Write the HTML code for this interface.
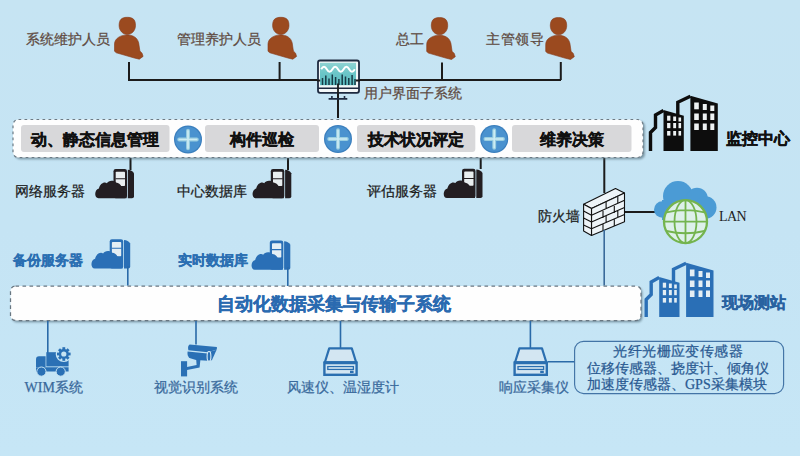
<!DOCTYPE html>
<html><head><meta charset="utf-8">
<style>
html,body{margin:0;padding:0;}
body{width:800px;height:456px;overflow:hidden;font-family:"Liberation Sans",sans-serif;}
#c{position:relative;width:800px;height:456px;overflow:hidden;background:linear-gradient(180deg,#c6e4f3 0%,#c5e4f4 50%,#c6e6f6 100%);}
svg{position:absolute;left:0;top:0;}
.t{position:absolute;white-space:nowrap;line-height:1;font-size:14px;-webkit-text-stroke:0.25px currentColor;}
.p{color:#604b42;}
.k{color:#1c1c1c;}
.b{font-weight:bold;font-size:16px;color:#111;-webkit-text-stroke:0.4px currentColor;}
.bl{font-weight:bold;color:#2b6fb2;-webkit-text-stroke:0.35px currentColor;}
.lb{color:#3a6a9c;}
.sf{font-family:"Liberation Serif",serif;}
</style></head>
<body><div id="c">
<svg width="800" height="456" viewBox="0 0 800 456">
<!-- top tree lines -->
<g stroke="#1b1b1b" stroke-width="2" fill="none">
<path d="M128 80H561M129 62V80M279.6 62V80M442 62.5V80M560.8 62V80"/>
<path d="M338 84V118"/>
<path d="M130.5 158V170M288 158V170M480.7 158V169M604.3 158V193"/>
<path d="M624 212H655"/>
</g>
<!-- persons -->
<defs>
<g id="person">
<path d="M-8.2 -0.5 C-8.2 -6.5,-5.5 -8.7,0 -8.7 C5.5 -8.7,8.2 -6.5,8.2 -0.5 C8.2 4.6,4.4 8.5,0 8.5 C-4.4 8.5,-8.2 4.6,-8.2 -0.5Z" fill="#9b4a1f" stroke="#86391a" stroke-width="0.6"/>
<path d="M-12.8 18 C-12.8 12.5,-6.5 8.9,-0.5 8.9 C5.5 8.9,10.2 11.5,11.4 17 L12.6 25 L14.8 27.2 L15.8 30.4 L12 33.2 L7 32 L-11 26.8 L-12.8 25.2 Z" fill="#9b4a1f" stroke="#86391a" stroke-width="0.6"/>
</g>
</defs>
<use href="#person" x="127.3" y="26"/>
<use href="#person" x="280.8" y="26"/>
<use href="#person" x="439.5" y="26.3"/>
<use href="#person" x="558.5" y="26.3"/>
<!-- monitor -->
<rect x="318" y="60.5" width="41" height="32.3" rx="2" fill="#f3f7f8" stroke="#1e2a40" stroke-width="1.8"/>
<defs><linearGradient id="scr" x1="0" y1="0" x2="0" y2="1"><stop offset="0" stop-color="#8fd3d3"/><stop offset="0.45" stop-color="#6cc6c8"/><stop offset="1" stop-color="#5bbec2"/></linearGradient></defs><rect x="320" y="62.8" width="36" height="22.4" fill="url(#scr)"/>
<path d="M321.2 69.2 q2.8 -5 5.6 0 t5.6 0 t5.6 0 t5.6 0 t5.6 0 t5.6 0" stroke="#fff" stroke-width="2" fill="none"/>
<path d="M317 80.5H320.2M355.8 80.5H360" stroke="#1b1b1b" stroke-width="2"/>
<g stroke="#183c48" stroke-width="1.5">
<path d="M322.5 85V78M325.8 85V75.5M329 85V78.5M332.3 85V74.5M335.6 85V77M338.9 85V79M342.2 85V74.5M345.5 85V76.5M348.8 85V78M352.1 85V75M355 85V79"/>
</g>
<path d="M318 88.3H359" stroke="#1e2a40" stroke-width="1.6"/>
<path d="M338 83.5V118" stroke="#1b1b1b" stroke-width="1.8"/>
<path d="M328.6 98.9H347.3M331.9 96V99M344.5 96V99" stroke="#1e2a40" stroke-width="1.6"/>

<!-- top bar -->
<defs><filter id="bl" x="-5%" y="-30%" width="110%" height="160%"><feGaussianBlur stdDeviation="0.9"/></filter></defs>
<rect x="14.8" y="121.2" width="630" height="38" rx="5" fill="#506a78" opacity="0.65" filter="url(#bl)"/>
<rect x="13" y="119.5" width="630" height="38" rx="5.5" fill="#fefefe" stroke="#6c7a84" stroke-width="1.2" stroke-dasharray="2.7 3.3"/>
<g fill="#d8d8da">
<rect x="21" y="125" width="148.5" height="27" rx="3"/>
<rect x="205" y="125" width="114" height="27" rx="3"/>
<rect x="357" y="125" width="118.3" height="27" rx="3"/>
<rect x="512" y="125" width="119.5" height="27" rx="3"/>
</g>
<defs>
<g id="plus">
<circle r="14" fill="#3b7fbd"/>
<circle r="12.8" fill="#4a92cf"/>
<path d="M-8.8 0H8.8M0 -8.8V8.8" stroke="#98cde0" stroke-width="3.9" stroke-linecap="round"/>
<path d="M-8.6 0H8.6M0 -8.6V8.6" stroke="#cdecf3" stroke-width="1.7" stroke-linecap="round"/>
</g>
</defs>
<use href="#plus" x="188" y="139.5"/>
<use href="#plus" x="338" y="139"/>
<use href="#plus" x="494.2" y="139"/>

<!-- monitoring center building (black) -->
<g id="bld">
<path d="M677.8 115V102.3L690.4 96.2" stroke="#0d0d0d" stroke-width="3.4" fill="none" stroke-linejoin="miter"/>
<path d="M690.4 95.7L717.8 103.5V151H690.4Z" fill="#0d0d0d"/>
<path d="M650.5 151V132.5L655.5 127.5V115L663.5 110.6" stroke="#0d0d0d" stroke-width="3.4" fill="none"/>
<path d="M663.5 110L683.8 115.7V151H663.5Z" fill="#0d0d0d"/>
<g fill="#eef2f3">
<rect x="694.2" y="102.5" width="4.6" height="6.8"/><rect x="702.8" y="104" width="4" height="6"/><rect x="710.3" y="105.5" width="4" height="5.5"/>
<rect x="694.2" y="113.5" width="4.6" height="6.5"/><rect x="702.8" y="113.5" width="4" height="6.5"/><rect x="710.3" y="113.5" width="4" height="6.5"/>
<rect x="694.2" y="123.5" width="4.6" height="6.5"/><rect x="702.8" y="123.5" width="4" height="6.5"/><rect x="710.3" y="123.5" width="4" height="6.5"/>
<rect x="667.1" y="115.7" width="3.3" height="5"/><rect x="673.2" y="116.5" width="2.9" height="4.5"/><rect x="678.5" y="117.5" width="2.6" height="4"/>
<rect x="667.1" y="123" width="3.3" height="5.2"/><rect x="673.2" y="123" width="2.9" height="5.2"/><rect x="678.5" y="123" width="2.6" height="5.2"/>
<rect x="667.1" y="131" width="3.3" height="4.6"/><rect x="673.2" y="131" width="2.9" height="4.6"/><rect x="678.5" y="131" width="2.6" height="4.6"/>
</g>
</g>

<!-- dark server icons -->
<defs>
<g id="srv">
<rect x="0" y="0" width="13.5" height="29.3" rx="2.2"/>
<path d="M14.3 0.8 Q18.5 1.2 20.5 4.3 V27.5 Q20.5 29.3 18.5 29.3 H14.3Z"/>
</g>
<g id="srvwin">
<rect x="2.2" y="2.8" width="9.3" height="14.2" rx="0.8"/>
</g>
<path id="srvcl" d="M-15 29.3 C-19.2 29.3,-19.6 21,-14.6 19.6 C-13.6 14.6,-9.2 12.4,-6.6 14.2 C-5.2 11.4,0.2 10.8,2.6 13.6 C5 13.8,7 15.4,8 17.6 L13 18 V29.3 Z"/>
</defs>
<g fill="#231e22">
<use href="#srv" x="113.5" y="169"/>
<use href="#srv" x="270.8" y="169"/>
<use href="#srv" x="462" y="168.8"/>
</g>
<g fill="#e9eef0">
<use href="#srvwin" x="113.5" y="169"/>
<use href="#srvwin" x="270.8" y="169"/>
<use href="#srvwin" x="462" y="168.8"/>
</g>
<g stroke="#231e22" stroke-width="1.1">
<path d="M115.5 178.7H125.5M272.8 178.7H282.8M464 178.5H474"/>
</g>
<g fill="#231e22">
<use href="#srvcl" x="113.5" y="169"/>
<use href="#srvcl" x="270.8" y="169"/>
<use href="#srvcl" x="462" y="168.8"/>
</g>

<!-- blue server icons -->
<g fill="#2a6fb6">
<use href="#srv" x="109.7" y="239.2"/>
<use href="#srv" x="269.8" y="240.5"/>
</g>
<g fill="#e4eef4">
<use href="#srvwin" x="109.7" y="239.2"/>
<use href="#srvwin" x="269.8" y="240.5"/>
</g>
<g stroke="#2a6fb6" stroke-width="1.1">
<path d="M111.7 248.3H121.7M271.8 249.6H281.8"/>
</g>
<g fill="#2a6fb6">
<use href="#srvcl" x="109.7" y="239.2"/>
<use href="#srvcl" x="269.8" y="240.5"/>
</g>
<g stroke="#2a6aa8" stroke-width="1.6" fill="none">
<path d="M127.8 266V285.5M287.8 267V286"/>
</g>

<!-- firewall -->
<g stroke="#111" stroke-width="1.1" fill="#eef4f8" stroke-linejoin="round">
<path d="M583.6 204.2L615.5 188.6L624.5 193L591.5 208.6Z"/>
<path d="M591.5 208.6L624.5 193V221.8L591.5 235.5Z"/>
<path d="M583.6 204.2L591.5 208.6V235.5L583.6 231.1Z"/>
<path fill="none" d="M591.5 215.3L624.5 200.2M591.5 222L624.5 207.4M591.5 228.8L624.5 214.6M583.6 211L591.5 215.3M583.6 218L591.5 222M583.6 225L591.5 228.8
M606.1 208.5V201.5M617.8 203.5V196.5
M603 218V211M614.3 213V206
M606.1 222.5V215.5M617.8 217.5V210.5
M603 230.5V224M614.3 226V219"/>
</g>
<path d="M604.2 230V285.5" stroke="#3a6a9a" stroke-width="1.6"/>

<!-- LAN cloud + globe -->
<g fill="#4b9bd5">
<circle cx="662.3" cy="209.5" r="8.3"/>
<circle cx="678" cy="196" r="15"/>
<circle cx="697" cy="198.5" r="10.8"/>
<circle cx="705.3" cy="207.5" r="11.2"/>
<rect x="662" y="200" width="44" height="20"/>
</g>
<circle cx="685.5" cy="221.6" r="21.5" fill="#ddf0ea" stroke="#74b44e" stroke-width="2.3"/>
<g stroke="#74b44e" stroke-width="1.8" fill="none">
<ellipse cx="685.5" cy="221.6" rx="11" ry="21.5"/>
<path d="M685.5 200V243.2M664 221.6H707M666.5 212.3Q685.5 207.8 704.5 212.3M666.5 231Q685.5 235.5 704.5 231"/>
</g>

<!-- blue field-station building -->
<g transform="translate(-4.3 167)" id="bldb">
<path d="M677.8 115V102.3L690.4 96.2" stroke="#2a6fb6" stroke-width="3.4" fill="none"/>
<path d="M690.4 95.7L717.8 103.5V150H690.4Z" fill="#2a6fb6"/>
<path d="M650.5 150V132.5L655.5 127.5V115L663.5 110.6" stroke="#2a6fb6" stroke-width="3.4" fill="none"/>
<path d="M663.5 110L683.8 115.7V150H663.5Z" fill="#2a6fb6"/>
<g fill="#e4eef4">
<rect x="694.2" y="102.5" width="4.6" height="6.8"/><rect x="702.8" y="104" width="4" height="6"/><rect x="710.3" y="105.5" width="4" height="5.5"/>
<rect x="694.2" y="113.5" width="4.6" height="6.5"/><rect x="702.8" y="113.5" width="4" height="6.5"/><rect x="710.3" y="113.5" width="4" height="6.5"/>
<rect x="694.2" y="123.5" width="4.6" height="6.5"/><rect x="702.8" y="123.5" width="4" height="6.5"/><rect x="710.3" y="123.5" width="4" height="6.5"/>
<rect x="667.1" y="115.7" width="3.3" height="5"/><rect x="673.2" y="116.5" width="2.9" height="4.5"/><rect x="678.5" y="117.5" width="2.6" height="4"/>
<rect x="667.1" y="123" width="3.3" height="5.2"/><rect x="673.2" y="123" width="2.9" height="5.2"/><rect x="678.5" y="123" width="2.6" height="5.2"/>
<rect x="667.1" y="131" width="3.3" height="4.6"/><rect x="673.2" y="131" width="2.9" height="4.6"/><rect x="678.5" y="131" width="2.6" height="4.6"/>
</g>
</g>

<!-- bottom bar -->
<rect x="12.3" y="287.8" width="630" height="34.5" rx="4.5" fill="#506a78" opacity="0.65" filter="url(#bl)"/>
<rect x="10.5" y="286" width="630.5" height="34.5" rx="5" fill="#fefefe" stroke="#687681" stroke-width="1.25" stroke-dasharray="3.6 3.4"/>

<!-- bottom lines -->
<g stroke="#2a6aa8" stroke-width="1.6" fill="none">
<path d="M47.8 321V353M196 321V344.5M340.5 321V348.5M530.4 321V348.5M548 361.8H575"/>
</g>
<!-- sensor box -->
<rect x="574.6" y="341.3" width="209" height="52.3" rx="9" fill="none" stroke="#4374a6" stroke-width="1.15"/>

<!-- truck -->
<g fill="#2a70b5">
<path d="M46.3 352.2H68.6V366.4H46.3Z"/>
<path d="M36 366.9V359.2Q36 356.2 39 356.2H45.6V366.9Z"/>
<path d="M36 367.3H68.6V371.6H36Z"/>
</g>
<circle cx="63.8" cy="354" r="8.1" fill="#c5e4f4"/>
<g fill="#2a70b5" stroke="#c6e3f2" stroke-width="1">
<circle cx="41.4" cy="371.6" r="4.6"/>
<circle cx="60.7" cy="371.6" r="4.6"/>
</g>
<g transform="translate(63.8 354)" fill="#2a70b5">
<circle r="5"/>
<g id="teeth"><rect x="-1.4" y="-6.8" width="2.8" height="13.6"/><rect x="-6.8" y="-1.4" width="13.6" height="2.8"/></g>
<use href="#teeth" transform="rotate(45)"/>
<circle r="2.6" fill="#c6e3f2"/>
</g>
<!-- camera -->
<g fill="#2a70b5">
<path d="M189.6 344.4L216.9 347L216.9 349.6L208 352.2L188.4 350.2Q187.3 346 189.6 344.4Z"/>
<path d="M187.6 351.4L207.6 353.6L207.8 360.8L196 360L190.2 358.2Q186.9 356.6 187.6 351.4Z"/>
<path d="M210.6 351.4L216.6 349.8L212 360L210.2 360.9Z"/>
<path d="M196.2 359.5L200.4 359.8L199.6 367.4L187 370V366.9L196.6 364.9Z"/>
<rect x="181" y="361.2" width="6.1" height="15.2"/>
</g>
<ellipse cx="209" cy="356.4" rx="1.9" ry="4.9" fill="#2a70b5" stroke="#d9ebf5" stroke-width="1.1"/>
<!-- drives -->
<defs>
<g id="drive">
<path d="M329.2 348.3H351.8L356.2 362.5H324.8Z" fill="#d3e6f2" stroke="#2b6fb0" stroke-width="2.2" stroke-linejoin="round"/>
<rect x="324.4" y="362.6" width="32.2" height="12.2" fill="#d3e6f2" stroke="#2b6fb0" stroke-width="2.4"/>
<path d="M324 362.7H357" stroke="#2b6fb0" stroke-width="3"/>
<rect x="327.8" y="366.6" width="25.6" height="2.8" fill="#e6f0f6" stroke="#2b6fb0" stroke-width="1.3"/>
<rect x="350" y="370.7" width="3.6" height="2.3" fill="#2b6fb0"/>
</g>
</defs>
<use href="#drive"/>
<use href="#drive" x="190.2"/>
</svg>

<div class="t p" style="left:26px;top:32px">系统维护人员</div>
<div class="t p" style="left:177px;top:32px">管理养护人员</div>
<div class="t p" style="left:396px;top:32px">总工</div>
<div class="t p" style="left:486px;top:32px;letter-spacing:0.7px">主管领导</div>
<div class="t p" style="left:364px;top:85.5px">用户界面子系统</div>

<div class="t b" style="left:31px;top:131.5px">动、静态信息管理</div>
<div class="t b" style="left:230px;top:132px">构件巡检</div>
<div class="t b" style="left:367.5px;top:132px">技术状况评定</div>
<div class="t b" style="left:540px;top:131.5px">维养决策</div>
<div class="t b" style="left:725.5px;top:130.5px">监控中心</div>

<div class="t k" style="left:15px;top:184px">网络服务器</div>
<div class="t k" style="left:177px;top:184px">中心数据库</div>
<div class="t k" style="left:367px;top:184px">评估服务器</div>
<div class="t k" style="left:538px;top:208.5px">防火墙</div>
<div class="t k sf" style="left:719px;top:210px;font-size:14px;letter-spacing:-0.6px;-webkit-text-stroke:0">LAN</div>

<div class="t bl" style="left:13px;top:253px">备份服务器</div>
<div class="t bl" style="left:177.5px;top:253px">实时数据库</div>
<div class="t bl" style="left:721.5px;top:294.5px;font-size:16px;color:#2962a0">现场测站</div>
<div class="t bl" style="left:216.8px;top:295.3px;font-size:18px;color:#2a6ab0">自动化数据采集与传输子系统</div>

<div class="t lb" style="left:24.5px;top:380px"><span class="sf">WIM</span>系统</div>
<div class="t lb" style="left:153.5px;top:379.5px">视觉识别系统</div>
<div class="t lb" style="left:287px;top:379.5px">风速仪、温湿度计</div>
<div class="t lb" style="left:498.5px;top:379.5px">响应采集仪</div>

<div class="t lb" style="left:613.4px;top:344px;color:#2a5a92;letter-spacing:0.4px">光纤光栅应变传感器</div>
<div class="t lb" style="left:587px;top:360.5px;color:#2a5a92">位移传感器、挠度计、倾角仪</div>
<div class="t lb" style="left:587px;top:377px;color:#2a5a92">加速度传感器、<span class="sf">GPS</span>采集模块</div>

</div></body></html>
